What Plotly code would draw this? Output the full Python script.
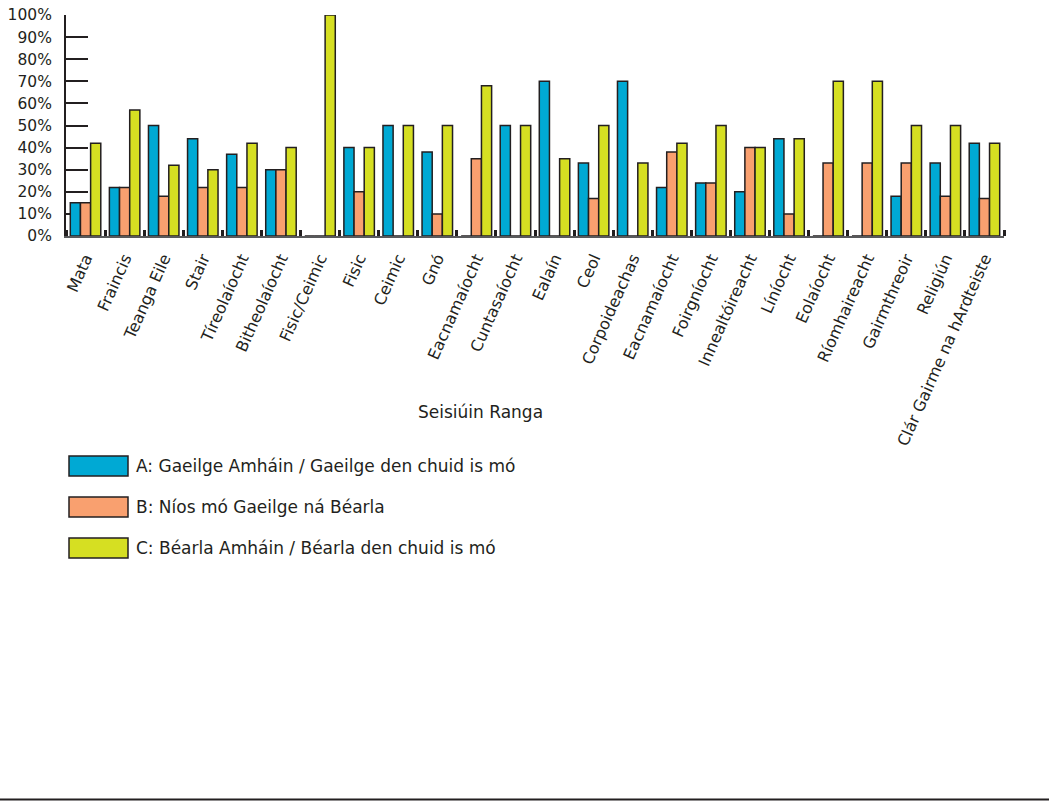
import plotly.graph_objects as go

categories = ["Mata", "Fraincis", "Teanga Eile", "Stair", "Tíreolaíocht", "Bitheolaíocht",
              "Fisic/Ceimic", "Fisic", "Ceimic", "Gnó", "Eacnamaíocht", "Cuntasaíocht",
              "Ealaín", "Ceol", "Corpoideachas", "Eacnamaíocht", "Foirgníocht",
              "Innealtóireacht", "Líníocht", "Eolaíocht", "Ríomhaireacht", "Gairmthreoir",
              "Religiún", "Clár Gairme na hArdteiste"]

series_names = ["A: Gaeilge Amháin / Gaeilge den chuid is mó",
                "B: Níos mó Gaeilge ná Béarla",
                "C: Béarla Amháin / Béarla den chuid is mó"]

values_a = [15, 22, 50, 44, 37, 30, 0, 40, 50, 38, 0, 50, 70, 33, 70, 22, 24, 20, 44, 0, 0, 18, 33, 42]
values_b = [15, 22, 18, 22, 22, 30, 0, 20, 0, 10, 35, 0, 0, 17, 0, 38, 24, 40, 10, 33, 33, 33, 18, 17]
values_c = [42, 57, 32, 30, 42, 40, 100, 40, 50, 50, 68, 50, 35, 50, 33, 42, 50, 40, 44, 70, 70, 50, 50, 42]

colors = ["#00a9d4", "#f9a06f", "#d6df22"]
ytick_vals = [0, 10, 20, 30, 40, 50, 60, 70, 80, 90, 100]
ytick_text = [f"{v}%" for v in ytick_vals]
x_title = "Seisiúin Ranga"

INK = "#231f20"
FONT = "DejaVu Sans"
W, H = 1049, 801
L, R, T, B = 66, 1004, 15, 236  # plot area in pixels


def px(x):
    return (x - L) / (R - L)


def py(y):
    return (B - y) / (B - T)


xs = list(range(len(categories)))
fig = go.Figure()
for name, vals, col in zip(series_names, [values_a, values_b, values_c], colors):
    fig.add_trace(go.Bar(x=xs, y=vals, name=name, marker=dict(color=col, line=dict(color=INK, width=1.5)),
                         showlegend=False))

fig.update_layout(
    width=W, height=H,
    margin=dict(l=L, r=W - R, t=T, b=H - B, pad=0, autoexpand=False),
    paper_bgcolor="white", plot_bgcolor="white",
    barmode="group", bargap=0.22, bargroupgap=0,
    font=dict(family=FONT, size=16, color=INK),
    xaxis=dict(
        type="linear", range=[-0.5, len(categories) - 0.5], automargin=False,
        tickmode="array", tickvals=xs, ticktext=categories, tickangle=-66,
        ticks="", showgrid=False, zeroline=False, ticklabelstandoff=5,
        showline=True, linecolor="#58595b", linewidth=1.5,
        tickfont=dict(family=FONT, size=16, color=INK),
        minor=dict(tickmode="linear", tick0=0.5, dtick=1, ticks="inside", ticklen=6,
                   tickwidth=3, tickcolor=INK, showgrid=False),
        layer="below traces",
    ),
    yaxis=dict(
        range=[0, 100], automargin=False, tickmode="array", tickvals=ytick_vals, ticktext=ytick_text,
        ticks="inside", ticklen=22, tickwidth=2, tickcolor=INK,
        showline=True, linecolor=INK, linewidth=2,
        showgrid=False, zeroline=False, ticklabelstandoff=9,
        tickfont=dict(family=FONT, size=15.5, color=INK),
        layer="below traces",
    ),
)

fig.add_annotation(text=x_title, x=px(480), y=py(412), xref="paper", yref="paper",
                   showarrow=False, xanchor="center", yanchor="middle",
                   font=dict(family=FONT, size=17, color=INK))

# legend drawn as boxes + text
for i, (name, col) in enumerate(zip(series_names, colors)):
    cy = 466 + 41 * i
    fig.add_shape(type="rect", xref="paper", yref="paper",
                  x0=px(69), x1=px(128), y0=py(cy + 10), y1=py(cy - 10),
                  fillcolor=col, line=dict(color=INK, width=1.5))
    fig.add_annotation(text=name, x=px(134), y=py(cy), xref="paper", yref="paper",
                       showarrow=False, xanchor="left", yanchor="middle",
                       font=dict(family=FONT, size=17, color=INK))

# bottom rule
fig.add_shape(type="line", xref="paper", yref="paper",
              x0=px(0), x1=px(W), y0=py(799.5), y1=py(799.5),
              line=dict(color=INK, width=2))

fig.write_html("out.html", config={"displayModeBar": False},
               post_script="document.body.style.margin='0';document.body.style.overflow='hidden';")
